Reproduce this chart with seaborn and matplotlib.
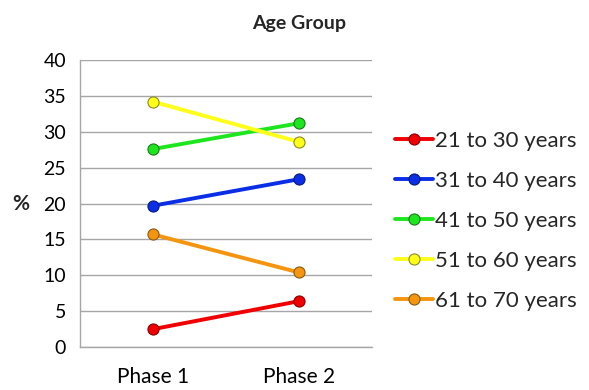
import matplotlib
matplotlib.use("Agg")
import matplotlib.pyplot as plt
import seaborn as sns
import pandas as pd

phases = ["Phase 1", "Phase 2"]
groups = ["21 to 30 years", "31 to 40 years", "41 to 50 years", "51 to 60 years", "61 to 70 years"]
age_21_30 = [2.5, 6.4]
age_31_40 = [19.7, 23.4]
age_41_50 = [27.6, 31.2]
age_51_60 = [34.2, 28.6]
age_61_70 = [15.7, 10.4]
colors = ["#F00000", "#0A2EE6", "#1EE61E", "#FFFF1A", "#F5950F"]
edges = ["#8A0000", "#0A1A7A", "#1A7A1A", "#8A8A20", "#8A5A10"]

series = [age_21_30, age_31_40, age_41_50, age_51_60, age_61_70]
rows = []
for g, vals in zip(groups, series):
    for p, v in zip(phases, vals):
        rows.append({"phase": p, "pct": v, "group": g})
df = pd.DataFrame(rows)

sns.set_style("white")
plt.rcParams["font.family"] = ["Lato", "DejaVu Sans"]

fig = plt.figure(figsize=(5.89, 3.90), dpi=100)
ax = fig.add_axes([0.1358, 0.110, 0.4958, 0.736])

sns.lineplot(data=df, x="phase", y="pct", hue="group", hue_order=groups,
             palette=colors, marker="o", markersize=8, linewidth=2.8,
             ax=ax, legend=True)
for line, ec in zip(ax.lines, edges):
    line.set_markeredgecolor(ec)
    line.set_markeredgewidth(0.8)

ax.set_xlim(-0.5, 1.5)
ax.set_ylim(0, 40)
ax.set_yticks(range(0, 41, 5))
ax.yaxis.grid(True, color="#A6A6A6", linewidth=1.0)
ax.set_axisbelow(True)
for s in ["top", "right"]:
    ax.spines[s].set_visible(False)
for s in ["left", "bottom"]:
    ax.spines[s].set_color("#A6A6A6")
    ax.spines[s].set_linewidth(1.0)
ax.tick_params(axis="y", length=0, labelsize=14, colors="black", pad=10)
ax.tick_params(axis="x", length=0, labelsize=15, colors="black", pad=14)
ax.set_xlabel("")
ax.set_ylabel("%", rotation=0, fontsize=15, fontweight="bold", labelpad=16, va="center")

handles, labels = ax.get_legend_handles_labels()
for h, ec in zip(handles, edges):
    h.set_markeredgecolor(ec)
    h.set_markeredgewidth(0.8)
ax.legend(handles, labels, loc="center left", bbox_to_anchor=(1.08, 0.44),
          frameon=False, fontsize=16, handlelength=1.7, handletextpad=0.1,
          labelspacing=0.9, borderaxespad=0, borderpad=0)

fig.suptitle("Age Group", x=0.508, y=0.962, fontsize=14, fontweight="bold")

fig.savefig("out.png", dpi=100)
